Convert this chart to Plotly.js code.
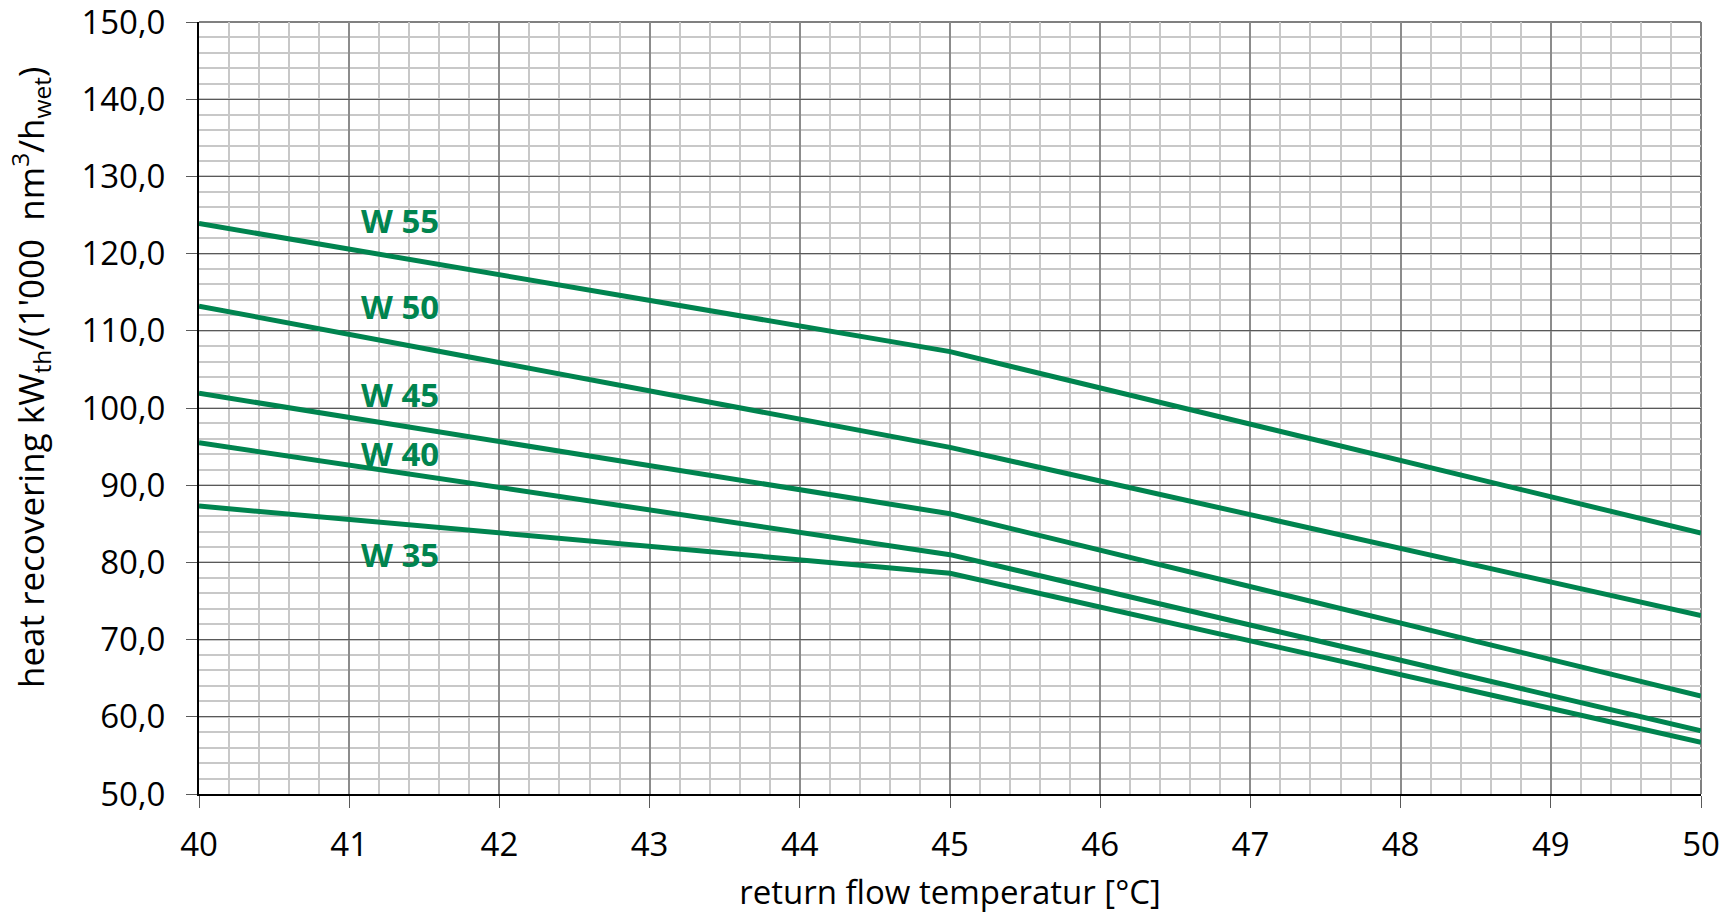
<!DOCTYPE html>
<html>
<head>
<meta charset="utf-8">
<script src="https://cdn.plot.ly/plotly-3.0.1.min.js"></script>
<style>html,body{margin:0;padding:0;background:#fff;}#chart{width:1735px;height:914px;}</style>
</head>
<body>
<div id="chart"></div>
<script>
// Data
const temps = [40, 45, 50];
const seriesNames = ["W 55", "W 50", "W 45", "W 40", "W 35"];
const w55 = [123.9, 107.3, 83.8];
const w50 = [113.2, 94.9, 73.1];
const w45 = [101.9, 86.3, 62.7];
const w40 = [95.5, 81.0, 58.2];
const w35 = [87.3, 78.6, 56.7];
const labelX = [41.34, 41.34, 41.34, 41.34, 41.34];
const labelY = [124.3, 113.1, 101.7, 94.1, 81.0];
const xTicks = [40, 41, 42, 43, 44, 45, 46, 47, 48, 49, 50];
const yTicks = [50, 60, 70, 80, 90, 100, 110, 120, 130, 140, 150];
const yTickText = ["50,0", "60,0", "70,0", "80,0", "90,0", "100,0", "110,0", "120,0", "130,0", "140,0", "150,0"];
const yTitle = "heat recovering kW<sub>th</sub>/(1'000&nbsp; nm<sup>3</sup>/h<sub>wet</sub>)";
const xTitle = "return flow temperatur [°C]";

const green = "#00844F";
const allSeries = [w55, w50, w45, w40, w35];

const traces = allSeries.map((ys, i) => ({
  type: "scatter",
  mode: "lines",
  x: temps,
  y: ys,
  name: seriesNames[i],
  line: {color: green, width: 5},
  hoverinfo: "skip"
}));

const annotations = seriesNames.map((n, i) => ({
  x: labelX[i], y: labelY[i], xref: "x", yref: "y",
  text: "<b>" + n + "</b>", showarrow: false,
  font: {family: "Open Sans", size: 33, color: green},
  xanchor: "center", yanchor: "middle"
}));
annotations.push({
  x: 0, y: 0.5, xref: "paper", yref: "paper",
  xshift: -169, yshift: 30,
  text: yTitle, showarrow: false, textangle: -90,
  font: {family: "Open Sans", size: 35, color: "#000"},
  xanchor: "center", yanchor: "middle"
});

const layout = {
  width: 1735, height: 914,
  margin: {l: 199, r: 34, t: 22, b: 120},
  paper_bgcolor: "#ffffff", plot_bgcolor: "#ffffff",
  showlegend: false,
  font: {family: "Open Sans", size: 33, color: "#000"},
  xaxis: {
    range: [40, 50],
    tickvals: xTicks,
    ticktext: xTicks.map(String),
    ticks: "outside", ticklen: 12, tickwidth: 1, tickcolor: "#595959",
    ticklabelstandoff: 8,
    ticklabeloverflow: "allow",
    showline: true, linecolor: "#000", linewidth: 2,
    showgrid: true, gridcolor: "#8c8c8c", gridwidth: 2,
    zeroline: false,
    minor: {dtick: 0.2, showgrid: true, gridcolor: "#c8c8c8", gridwidth: 2, ticks: ""},
    tickfont: {family: "Open Sans", size: 33, color: "#000"},
    title: {text: xTitle, font: {family: "Open Sans", size: 33, color: "#000"}, standoff: 20}
  },
  yaxis: {
    range: [50, 150],
    tickvals: yTicks,
    ticktext: yTickText,
    ticks: "outside", ticklen: 11, tickwidth: 1, tickcolor: "#595959",
    ticklabelstandoff: 14,
    ticklabeloverflow: "allow",
    showline: true, linecolor: "#000", linewidth: 2,
    showgrid: true, gridcolor: "#595959", gridwidth: 1,
    zeroline: false,
    minor: {dtick: 2, showgrid: true, gridcolor: "#c8c8c8", gridwidth: 2, ticks: ""},
    tickfont: {family: "Open Sans", size: 33, color: "#000"}
  },
  shapes: [
    {type: "line", xref: "paper", yref: "paper", x0: 0, x1: 1, y0: 1, y1: 1, line: {color: "#808080", width: 2}, layer: "below"},
    {type: "line", xref: "paper", yref: "paper", x0: 1, x1: 1, y0: 0, y1: 1, line: {color: "#808080", width: 2}, layer: "below"}
  ],
  annotations: annotations
};

Plotly.newPlot("chart", traces, layout, {staticPlot: true, displayModeBar: false});
</script>
</body>
</html>
